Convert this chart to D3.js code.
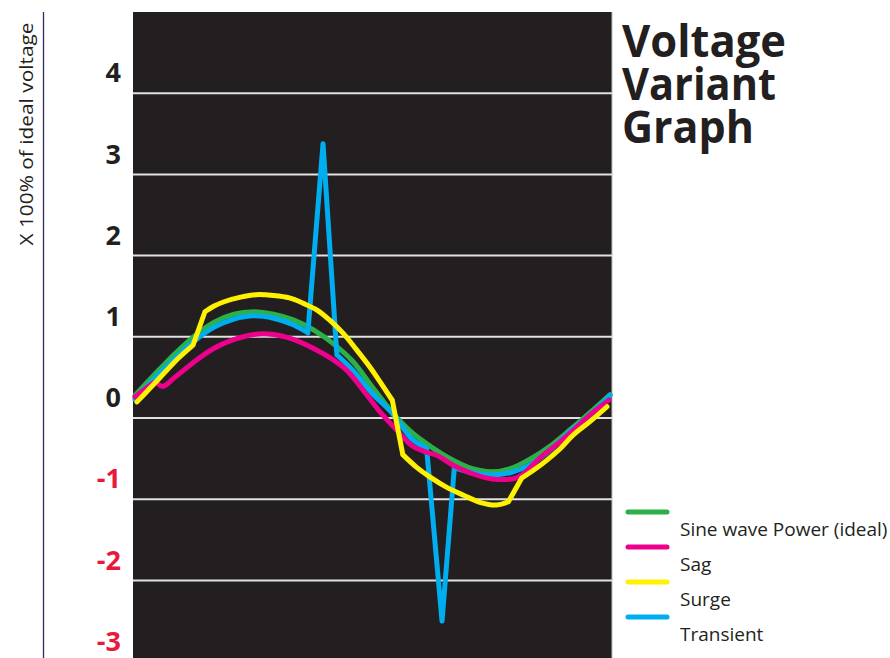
<!DOCTYPE html>
<html>
<head>
<meta charset="utf-8">
<script src="https://cdn.jsdelivr.net/npm/d3@7"></script>
<style>
  html, body { margin: 0; padding: 0; background: #ffffff; }
  svg { display: block; }
  text { font-family: "Open Sans", "Noto Sans", sans-serif; }
</style>
</head>
<body>
<svg id="chart" width="890" height="658"></svg>
<script>
// ---------------- data ----------------
// phase in degrees (one full cycle), value in multiples of ideal voltage
const sinePhase = [0, 15, 30, 45, 60, 75, 90, 105, 120, 135, 150, 165, 180, 195, 210, 225, 240, 255, 270, 285, 300, 315, 330, 345, 360];
const sineValues = [0.02, 0.28, 0.53, 0.75, 0.92, 1.02, 1.05, 1.02, 0.95, 0.83, 0.66, 0.44, 0.12, -0.19, -0.44, -0.62, -0.77, -0.88, -0.92, -0.88, -0.76, -0.60, -0.40, -0.19, 0.03];
const sineCorners = [];

const sagPhase = [0, 8, 15, 21, 30, 47, 60, 72, 90, 105, 120, 135, 150, 161, 175, 186, 198, 210, 221, 229, 241, 255, 271, 290, 307, 320, 332, 345, 359];
const sagValues = [0.00, 0.10, 0.18, 0.13, 0.24, 0.46, 0.60, 0.69, 0.77, 0.77, 0.71, 0.60, 0.46, 0.32, 0.04, -0.19, -0.40, -0.60, -0.68, -0.72, -0.84, -0.94, -1.01, -0.99, -0.75, -0.58, -0.41, -0.22, -0.04];
const sagCorners = [];

const surgePhase = [1.5, 12, 23, 33, 44, 53, 60, 67, 80, 92, 105, 117, 128, 138, 148, 158, 168, 178, 186, 195, 203, 213, 224, 236, 249, 262, 274, 283, 293, 303, 312, 322, 332, 345, 357.7];
const surgeValues = [-0.06, 0.12, 0.31, 0.48, 0.64, 1.05, 1.12, 1.17, 1.23, 1.26, 1.25, 1.22, 1.15, 1.07, 0.94, 0.78, 0.58, 0.37, 0.18, -0.04, -0.71, -0.86, -0.99, -1.11, -1.21, -1.30, -1.33, -1.29, -1.00, -0.89, -0.78, -0.64, -0.47, -0.30, -0.12];
const surgeCorners = [44, 53, 195, 203, 283, 293];

const transientPhase = [0, 15, 30, 45, 60, 75, 90, 105, 120, 131, 142.5, 153, 165, 180, 195, 210, 221, 232.7, 242, 255, 270, 285, 300, 315, 330, 345, 360];
const transientValues = [-0.03, 0.23, 0.47, 0.69, 0.86, 0.96, 1.00, 0.97, 0.89, 0.79, 3.12, 0.52, 0.33, 0.04, -0.20, -0.52, -0.63, -2.76, -0.87, -0.93, -0.96, -0.93, -0.83, -0.65, -0.42, -0.22, 0.02];
const transientCorners = [131, 142.5, 153, 221, 232.7, 242];

const seriesNames = ["Sine wave Power (ideal)", "Sag", "Surge", "Transient"];
const seriesColors = ["#2bb04a", "#ec008c", "#fff200", "#00aeef"];
const tickValues = [4, 3, 2, 1, 0, -1, -2, -3];
const titleLines = ["Voltage", "Variant", "Graph"];
const yAxisTitle = "X 100% of ideal voltage";

// ---------------- layout ----------------
const svg = d3.select("#chart");
const plot = { left: 133, right: 612, top: 12, bottom: 658 };
const gridOffset = 21;  // gridlines sit a little below each label in the reference

const x = d3.scaleLinear().domain([0, 360]).range([135, 610]);
const y = d3.scaleLinear().domain([0, 1]).range([397, 315.8]);

// plot background
svg.append("rect")
  .attr("x", plot.left).attr("y", plot.top)
  .attr("width", plot.right - plot.left).attr("height", plot.bottom - plot.top)
  .attr("fill", "#231f20");
svg.append("line")
  .attr("x1", plot.right).attr("x2", plot.right)
  .attr("y1", plot.top).attr("y2", plot.bottom)
  .attr("stroke", "#bdbdbd").attr("stroke-width", 1);

// gridlines
svg.append("g").selectAll("line")
  .data(tickValues.filter(t => y(t) + gridOffset > plot.top && y(t) + gridOffset < plot.bottom))
  .join("line")
  .attr("x1", plot.left).attr("x2", plot.right)
  .attr("y1", d => y(d) + gridOffset).attr("y2", d => y(d) + gridOffset)
  .attr("stroke", "#e2e2e2").attr("stroke-width", 2);

// left rule
svg.append("line")
  .attr("x1", 43.5).attr("x2", 43.5)
  .attr("y1", plot.top).attr("y2", plot.bottom)
  .attr("stroke", "#2e2c63").attr("stroke-width", 1.3);

// y axis labels
const yAxis = d3.axisLeft(y).tickValues(tickValues).tickSize(0).tickPadding(0)
  .tickFormat(d => String(d));
const gAxis = svg.append("g").attr("transform", "translate(121,0)").call(yAxis);
gAxis.select(".domain").remove();
gAxis.selectAll("text")
  .style("font-family", '"Open Sans", sans-serif')
  .style("font-weight", "700")
  .style("font-size", "27px")
  .attr("dy", "0.36em")
  .attr("fill", d => d < 0 ? "#e8193c" : "#231f20");

// y axis title
svg.append("text")
  .attr("transform", "translate(33,134) rotate(-90)")
  .attr("text-anchor", "middle")
  .attr("fill", "#231f20")
  .attr("textLength", 223)
  .attr("lengthAdjust", "spacingAndGlyphs")
  .style("font-size", "19px")
  .text(yAxisTitle);

// series (smooth pieces joined at the sharp corners of each waveform)
const series = [
  { phase: sinePhase, values: sineValues, corners: sineCorners, color: seriesColors[0] },
  { phase: transientPhase, values: transientValues, corners: transientCorners, color: seriesColors[3] },
  { phase: sagPhase, values: sagValues, corners: sagCorners, color: seriesColors[1] },
  { phase: surgePhase, values: surgeValues, corners: surgeCorners, color: seriesColors[2] }
];
const line = d3.line().x(d => x(d[0])).y(d => y(d[1])).curve(d3.curveCatmullRom.alpha(0.5));
function seriesPath(s) {
  const pts = s.phase.map((p, i) => [p, s.values[i]]);
  const segs = [];
  let cur = [];
  pts.forEach(pt => {
    cur.push(pt);
    if (s.corners.includes(pt[0])) { segs.push(cur); cur = [pt]; }
  });
  if (cur.length > 1) segs.push(cur);
  return segs.map(seg => line(seg)).join("");
}
svg.append("g").selectAll("path")
  .data(series)
  .join("path")
  .attr("d", seriesPath)
  .attr("fill", "none")
  .attr("stroke", s => s.color)
  .attr("stroke-width", 5)
  .attr("stroke-linejoin", "round")
  .attr("stroke-linecap", "round");

// title (one text block, three lines)
const titleWidths = [164, 154, 132];
const title = svg.append("text")
  .attr("x", 622).attr("y", 57)
  .attr("fill", "#231f20")
  .style("font-weight", "700")
  .style("font-size", "45px");
title.selectAll("tspan")
  .data(titleLines)
  .join("tspan")
  .attr("x", 622)
  .attr("dy", (d, i) => i === 0 ? 0 : 43)
  .attr("textLength", (d, i) => titleWidths[i])
  .attr("lengthAdjust", "spacingAndGlyphs")
  .text(d => d);

// legend
const leg = svg.append("g").selectAll("g")
  .data(seriesNames)
  .join("g")
  .attr("transform", (d, i) => `translate(0,${512 + i * 35})`);
leg.append("line")
  .attr("x1", 628).attr("x2", 667)
  .attr("y1", 0).attr("y2", 0)
  .attr("stroke", (d, i) => seriesColors[i])
  .attr("stroke-width", 5)
  .attr("stroke-linecap", "round");
leg.append("text")
  .attr("x", 680).attr("y", 23.5)
  .attr("fill", "#231f20")
  .style("font-size", "19px")
  .text(d => d);
</script>
</body>
</html>
